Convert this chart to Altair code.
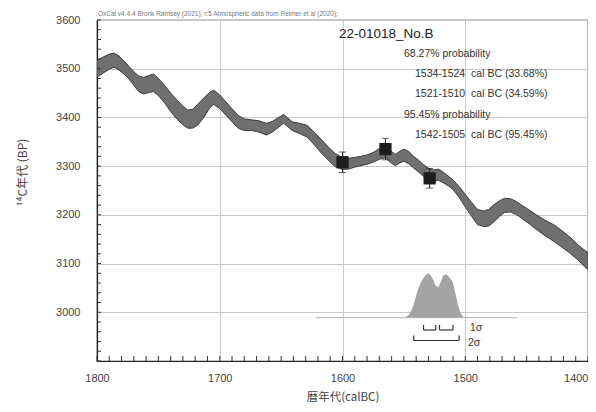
import altair as alt
import pandas as pd

# ---------------- data ----------------
curve_years = [1800, 1795, 1790, 1786, 1782, 1778, 1774, 1770, 1766, 1762, 1758, 1754,
               1750, 1745, 1740, 1735, 1730, 1726, 1722, 1718, 1713, 1708, 1705, 1700,
               1695, 1690, 1685, 1680, 1674, 1668, 1662, 1657, 1652, 1648, 1645, 1641,
               1635, 1629, 1623, 1617, 1611, 1606, 1600, 1595, 1590, 1585, 1580, 1575,
               1570, 1565, 1560, 1557, 1553, 1550, 1546, 1542, 1538, 1534, 1530, 1526,
               1522, 1518, 1514, 1510, 1505, 1500, 1495, 1490, 1485, 1481, 1477, 1472,
               1468, 1463, 1458, 1454, 1448, 1442, 1435, 1428, 1422, 1415, 1408, 1403, 1400]
curve_upper = [3517, 3524, 3530, 3532, 3526, 3516, 3505, 3494, 3485, 3482, 3486, 3489,
               3480, 3466, 3450, 3436, 3423, 3415, 3417, 3427, 3440, 3452, 3456, 3446,
               3432, 3418, 3404, 3397, 3395, 3393, 3388, 3392, 3400, 3406, 3400, 3391,
               3388, 3384, 3370, 3354, 3338, 3326, 3318, 3316, 3318, 3320, 3323, 3328,
               3336, 3342, 3330, 3324, 3331, 3335, 3330, 3320, 3312, 3303, 3296, 3292,
               3294, 3288, 3280, 3272, 3258, 3242, 3226, 3211, 3208, 3211, 3220, 3229,
               3234, 3233, 3227, 3220, 3210, 3200, 3189, 3180, 3169, 3155, 3138, 3128, 3122]
curve_lower = [3483, 3491, 3499, 3503, 3497, 3489, 3479, 3466, 3453, 3448, 3451, 3453,
               3445, 3430, 3412, 3397, 3385, 3378, 3378, 3384, 3400, 3420, 3427, 3418,
               3405, 3391, 3378, 3373, 3373, 3370, 3364, 3370, 3380, 3388, 3382, 3373,
               3367, 3360, 3344, 3326, 3311, 3299, 3293, 3294, 3298, 3301, 3304, 3308,
               3314, 3317, 3306, 3301, 3307, 3310, 3305, 3296, 3288, 3279, 3272, 3268,
               3271, 3266, 3260, 3252, 3236, 3216, 3198, 3180, 3176, 3177, 3185, 3197,
               3205, 3206, 3200, 3193, 3182, 3170, 3157, 3146, 3135, 3122, 3107, 3094, 3088]

dist_years = [1550, 1548, 1546, 1544, 1542, 1540, 1538, 1536, 1534, 1532, 1530, 1528,
              1526, 1524, 1522, 1520, 1518, 1516, 1514, 1512, 1510, 1508, 1506, 1504,
              1502, 1500]
dist_prob = [0.0, 0.02, 0.06, 0.15, 0.30, 0.50, 0.68, 0.80, 0.90, 0.97, 1.0, 0.95,
             0.85, 0.72, 0.68, 0.80, 0.95, 0.98, 0.94, 0.88, 0.78, 0.55, 0.30, 0.12,
             0.03, 0.0]
dist_base_start = [1622]
dist_base_end = [1458]

sample_years = [1600, 1565, 1529]
sample_bp = [3308, 3335, 3275]
sample_err = [21, 22, 20]

sigma1_start = [1534, 1521]
sigma1_end = [1524, 1510]
sigma2_start = [1542]
sigma2_end = [1505]

x_tick_labels = [1800, 1700, 1600, 1500, 1400]
y_tick_labels = [3000, 3100, 3200, 3300, 3400, 3500, 3600]
x_minor = list(range(1400, 1801, 10))
y_minor = list(range(2900, 3601, 20))

header_text = "OxCal v4.4.4 Bronk Ramsey (2021); r:5 Atmospheric data from Reimer et al (2020);"
sample_name = "22-01018_No.B"
prob_lines = ["68.27% probability",
              "1534-1524\u00a0 cal BC (33.68%)",
              "1521-1510\u00a0 cal BC (34.59%)",
              "95.45% probability",
              "1542-1505\u00a0 cal BC (95.45%)"]
sigma_labels = ["1\u03c3", "2\u03c3"]
x_title = "暦年代(calBC)"
y_title = "¹⁴C年代 (BP)"

# ---------------- frames ----------------
curve_df = pd.DataFrame({"year": curve_years, "upper": curve_upper, "lower": curve_lower})
dist_df = pd.DataFrame({"year": dist_years, "p": dist_prob})
base_df = pd.DataFrame({"x1": dist_base_start, "x2": dist_base_end})
samp_df = pd.DataFrame({"year": sample_years, "bp": sample_bp, "err": sample_err})
samp_df["lo"] = samp_df["bp"] - samp_df["err"]
samp_df["hi"] = samp_df["bp"] + samp_df["err"]
s1_df = pd.DataFrame({"a": sigma1_start, "b": sigma1_end})
s2_df = pd.DataFrame({"a": sigma2_start, "b": sigma2_end})
s1_ends = pd.DataFrame({"year": sigma1_start + sigma1_end})
s2_ends = pd.DataFrame({"year": sigma2_start + sigma2_end})
xm_df = pd.DataFrame({"year": x_minor})
ym_df = pd.DataFrame({"bp": y_minor})

LATIN = "Liberation Sans"
CJK = "Noto Sans CJK JP"

xs = alt.Scale(domain=[1400, 1800], reverse=True, nice=False, zero=False)
ys = alt.Scale(domain=[2900, 3600], nice=False, zero=False)
ps = alt.Scale(domain=[-0.975, 6.705], nice=False, zero=False)

x_axis = alt.Axis(values=x_tick_labels, format="d", ticks=False, labelPadding=11,
                  labelFont=LATIN, labelFontSize=11, labelColor="#444",
                  labelAlign={"expr": "datum.value == 1400 ? 'right' : 'center'"},
                  labelFlush=False, grid=True, gridColor="#c8c8c8", gridWidth=1,
                  domainColor="#222", domainWidth=1.2,
                  title=x_title, titleFont=CJK, titleFontSize=11.5, titleFontWeight="normal",
                  titleColor="#444", titlePadding=8)
y_axis = alt.Axis(values=y_tick_labels, format="d", ticks=False, labelPadding=17,
                  labelFont=LATIN, labelFontSize=11, labelColor="#444",
                  grid=True, gridColor="#c8c8c8", gridWidth=1,
                  domainColor="#222", domainWidth=1.2,
                  title=y_title, titleFont=CJK, titleFontSize=12, titleFontWeight="normal",
                  titleColor="#444", titleX=-75, titleY=152, titleBaseline="middle",
                  titleAnchor="middle", titleAlign="center")


def X(field):
    return alt.X(field, type="quantitative", scale=xs, axis=x_axis)


band = alt.Chart(curve_df).mark_area(
    fill="#6f6f6f", stroke="#3c3c3c", strokeWidth=1, clip=True
).encode(
    x=X("year"),
    y=alt.Y("upper:Q", scale=ys, axis=y_axis),
    y2="lower:Q",
)

dist = alt.Chart(dist_df).mark_area(fill="#a4a4a4", stroke=None).encode(
    x=X("year"),
    y=alt.Y("p:Q", scale=ps, axis=None),
    y2=alt.Y2Datum(0),
)

baseline = alt.Chart(base_df).mark_rule(color="#b0b0b0", strokeWidth=1).encode(
    x=X("x1"),
    x2="x2:Q",
    y=alt.YDatum(0, scale=ps, axis=None),
)

errbars = alt.Chart(samp_df).mark_rule(color="#222", strokeWidth=1).encode(
    x=X("year"),
    y=alt.Y("lo:Q", scale=ys, axis=None),
    y2="hi:Q",
)
cap_lo = alt.Chart(samp_df).mark_tick(orient="horizontal", size=7, thickness=1, color="#222").encode(
    x=X("year"), y=alt.Y("lo:Q", scale=ys, axis=None))
cap_hi = alt.Chart(samp_df).mark_tick(orient="horizontal", size=7, thickness=1, color="#222").encode(
    x=X("year"), y=alt.Y("hi:Q", scale=ys, axis=None))
squares = alt.Chart(samp_df).mark_square(size=150, color="#1c1c1c", opacity=1).encode(
    x=X("year"), y=alt.Y("bp:Q", scale=ys, axis=None))

xminor = alt.Chart(xm_df).mark_rule(color="#333", strokeWidth=1).encode(
    x=X("year"), y=alt.value(341), y2=alt.value(336))
yminor = alt.Chart(ym_df).mark_rule(color="#333", strokeWidth=1).encode(
    y=alt.Y("bp:Q", scale=ys, axis=None), x=alt.value(0), x2=alt.value(4))

s1_line = alt.Chart(s1_df).mark_rule(color="#333", strokeWidth=1.2).encode(
    x=X("a"), x2="b:Q", y=alt.value(310))
s1_tick = alt.Chart(s1_ends).mark_rule(color="#333", strokeWidth=1.2).encode(
    x=X("year"), y=alt.value(305), y2=alt.value(310))
s2_line = alt.Chart(s2_df).mark_rule(color="#333", strokeWidth=1.2).encode(
    x=X("a"), x2="b:Q", y=alt.value(320.5))
s2_tick = alt.Chart(s2_ends).mark_rule(color="#333", strokeWidth=1.2).encode(
    x=X("year"), y=alt.value(315.5), y2=alt.value(320.5))


def label(text, x, y, size, color="#333", font=LATIN, align="left"):
    return alt.Chart(pd.DataFrame({"t": [text]})).mark_text(
        font=font, fontSize=size, color=color, align=align, baseline="middle"
    ).encode(text="t:N", x=alt.value(x), y=alt.value(y))


texts = [
    label(header_text, 1, -6, 6.5, color="#777"),
    label(sample_name, 242, 14, 13.5, color="#222"),
    label(prob_lines[0], 307, 34, 10.5),
    label(prob_lines[1], 318, 54, 10.5),
    label(prob_lines[2], 318, 74, 10.5),
    label(prob_lines[3], 307, 95, 10.5),
    label(prob_lines[4], 318, 115, 10.5),
    label(sigma_labels[0], 373, 308, 10.5),
    label(sigma_labels[1], 371, 323, 10.5),
]

chart = alt.layer(
    band, dist, baseline, xminor, yminor, errbars, cap_lo, cap_hi, squares,
    s1_line, s1_tick, s2_line, s2_tick, *texts
).resolve_scale(y="independent").properties(
    width=491, height=341,
    autosize=alt.AutoSizeParams(type="none"),
    padding={"left": 89, "top": 12, "right": 0, "bottom": 46},
    background="white",
).configure_view(stroke="#222", strokeWidth=1.2)

chart.save("out.html", embed_options={"renderer": "svg", "actions": False})
